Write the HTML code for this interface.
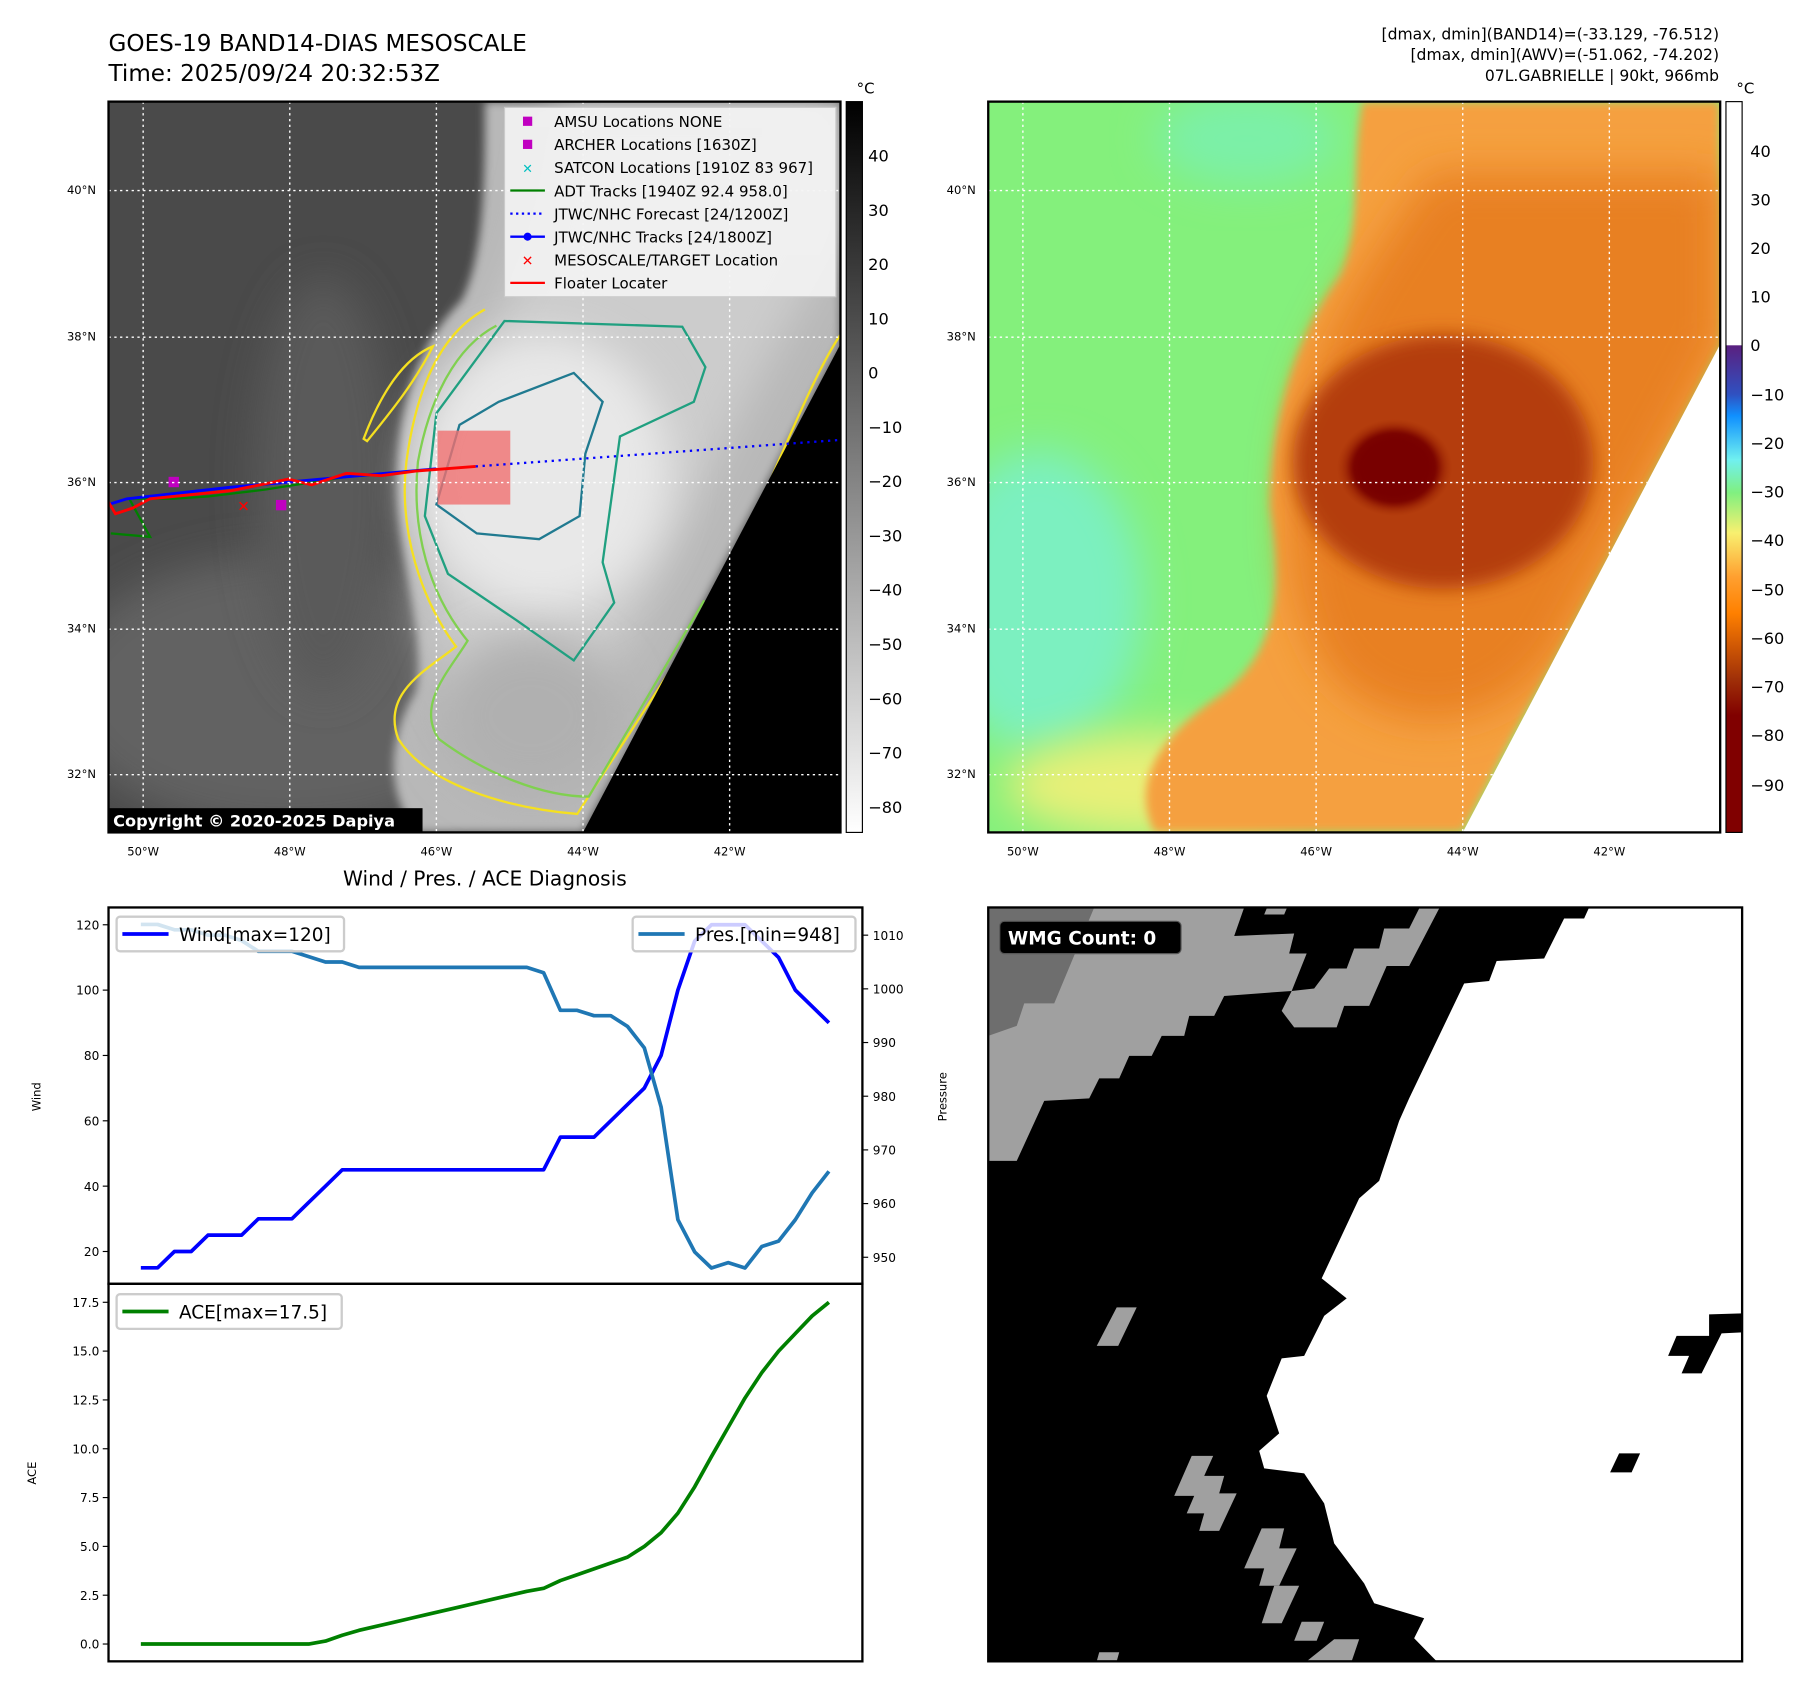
<!DOCTYPE html>
<html><head><meta charset="utf-8"><style>
html,body{margin:0;padding:0;background:#fff}
svg{display:block;font-family:"DejaVu Sans","Liberation Sans",sans-serif}
</style></head><body>
<svg id="root" xmlns="http://www.w3.org/2000/svg" width="1801" height="1690" viewBox="0 0 1560 1463.8">
<defs>
<clipPath id="c1"><rect x="94" y="88" width="634" height="633"/></clipPath>
<clipPath id="c2"><rect x="856" y="88" width="634" height="633"/></clipPath>
<clipPath id="c3"><rect x="856" y="786" width="653" height="653"/></clipPath>
<filter id="bl" x="-50%" y="-50%" width="200%" height="200%"><feGaussianBlur stdDeviation="18"/></filter>
<filter id="bl2" x="-50%" y="-50%" width="200%" height="200%"><feGaussianBlur stdDeviation="8"/></filter>
<filter id="bl3" x="-20%" y="-20%" width="140%" height="140%"><feGaussianBlur stdDeviation="4"/></filter>
<linearGradient id="gcb" x1="0" y1="0" x2="0" y2="1"><stop offset="0" stop-color="#000"/><stop offset="1" stop-color="#fff"/></linearGradient>
<linearGradient id="ccb" x1="0" y1="0" x2="0" y2="1">
<stop offset="0" stop-color="#fff"/><stop offset="0.333" stop-color="#fff"/>
<stop offset="0.334" stop-color="#5a2080"/><stop offset="0.40" stop-color="#3050c0"/><stop offset="0.43" stop-color="#1090ff"/>
<stop offset="0.49" stop-color="#70f0f0"/><stop offset="0.535" stop-color="#80f080"/><stop offset="0.59" stop-color="#f8f070"/>
<stop offset="0.65" stop-color="#ffa030"/><stop offset="0.70" stop-color="#ff8000"/><stop offset="0.79" stop-color="#a03008"/><stop offset="0.84" stop-color="#800000"/><stop offset="1" stop-color="#800000"/></linearGradient>
<radialGradient id="eye" cx="0.5" cy="0.5" r="0.5"><stop offset="0" stop-color="#7a0000"/><stop offset="0.7" stop-color="#800800"/><stop offset="1" stop-color="#a02800" stop-opacity="0"/></radialGradient>
</defs>

<text x="94" y="44" font-size="20">GOES-19 BAND14-DIAS MESOSCALE</text>
<text x="94" y="70" font-size="20">Time: 2025/09/24 20:32:53Z</text>
<g font-size="13.5" text-anchor="end">
<text x="1489" y="34">[dmax, dmin](BAND14)=(-33.129, -76.512)</text>
<text x="1489" y="52">[dmax, dmin](AWV)=(-51.062, -74.202)</text>
<text x="1489" y="70">07L.GABRIELLE | 90kt, 966mb</text>
</g>

<!-- LEFT MAP -->
<g clip-path="url(#c1)">
<rect x="94" y="88" width="634" height="633" fill="#4a4a4a"/>
<ellipse cx="250" cy="600" rx="200" ry="120" fill="#626262" filter="url(#bl)"/>
<ellipse cx="280" cy="420" rx="60" ry="180" fill="#5a5a5a" filter="url(#bl)"/>
<path d="M420,88 L728,88 L728,298 L505,721 L360,721 C330,680 340,630 360,600 C370,560 350,500 345,440 C340,360 360,300 400,260 C420,220 420,150 420,88 Z" fill="#b8b8b8" filter="url(#bl3)"/>
<path d="M480,88 L728,88 L728,200 L640,360 L560,520 C520,600 480,640 420,640 C380,600 370,540 365,480 C360,420 370,360 400,320 C430,280 470,220 480,88 Z" fill="#cccccc" filter="url(#bl)"/>
<ellipse cx="470" cy="410" rx="110" ry="120" fill="#e8e8e8" filter="url(#bl)"/>
<ellipse cx="460" cy="620" rx="80" ry="70" fill="#b0b0b0" filter="url(#bl)"/>
<g fill="none" stroke-width="2">
<path d="M420,268 C380,290 360,340 352,400 C345,460 365,520 395,560 C370,580 330,600 345,640 C370,680 440,700 500,705 L620,520 C660,440 700,330 728,290" stroke="#f5e020"/>
<path d="M430,282 C395,300 372,345 362,400 C356,460 372,515 405,555 C390,580 360,610 380,640 C420,670 470,690 510,690 L610,520" stroke="#80d050"/>
<path d="M437,278 L591,283 L611,318 L601,348 L537,378 L522,487 L532,522 L497,572 L447,537 L388,497 L368,447 L378,358 Z" stroke="#20a080"/>
<path d="M398,368 L432,348 L497,323 L522,348 L507,393 L502,447 L467,467 L413,462 L378,437 Z" stroke="#207a90"/>
<path d="M315,380 C330,340 350,310 375,300 C360,330 340,355 318,382 Z" stroke="#f5e020"/>
</g>
<polygon points="728,298 728,721 505,721" fill="#000"/>
<rect x="379" y="373" width="63" height="64" fill="#f07070" opacity="0.8"/>
<polyline points="96,462 130,465 112,432 150,432 180,430 230,424 300,413 350,409" fill="none" stroke="#008000" stroke-width="2"/>
<polyline points="94,437 110,432 200,422 300,413 378,406" fill="none" stroke="#0000ff" stroke-width="2.5"/>
<polyline points="94,435 100,445 115,440 130,432 200,425 250,415 270,420 300,410 330,412 360,408 412,404" fill="none" stroke="#ff0000" stroke-width="2.5"/>
<line x1="412" y1="404" x2="728" y2="381" stroke="#0000ff" stroke-width="2" stroke-dasharray="2,4"/>
<rect x="146" y="413" width="9" height="9" fill="#c000c0"/>
<rect x="239" y="433" width="9" height="9" fill="#c000c0"/>
<text x="211" y="443" fill="#f00" font-size="13" font-weight="bold" text-anchor="middle">✕</text>
<g stroke="#fff" stroke-dasharray="2,3" stroke-width="1.2">
<line x1="124" y1="88" x2="124" y2="721"/><line x1="251" y1="88" x2="251" y2="721"/><line x1="378" y1="88" x2="378" y2="721"/><line x1="505" y1="88" x2="505" y2="721"/><line x1="632" y1="88" x2="632" y2="721"/>
<line x1="94" y1="165" x2="728" y2="165"/><line x1="94" y1="292" x2="728" y2="292"/><line x1="94" y1="418" x2="728" y2="418"/><line x1="94" y1="545" x2="728" y2="545"/><line x1="94" y1="671" x2="728" y2="671"/>
</g>
<g font-size="13">
<rect x="437" y="93" width="287" height="164" fill="#f4f4f4" opacity="0.9" stroke="#ccc"/>
<rect x="453" y="101" width="8" height="8" fill="#c000c0"/><text x="480" y="110">AMSU Locations NONE</text>
<rect x="453" y="121" width="8" height="8" fill="#c000c0"/><text x="480" y="130">ARCHER Locations [1630Z]</text>
<text x="457" y="150" fill="#00c0c0" text-anchor="middle" font-size="11" font-weight="bold">✕</text><text x="480" y="150">SATCON Locations [1910Z 83 967]</text>
<line x1="442" y1="165" x2="472" y2="165" stroke="#008000" stroke-width="2"/><text x="480" y="170">ADT Tracks [1940Z 92.4 958.0]</text>
<line x1="442" y1="185" x2="472" y2="185" stroke="#0000ff" stroke-width="2" stroke-dasharray="2,3"/><text x="480" y="190">JTWC/NHC Forecast [24/1200Z]</text>
<line x1="442" y1="205" x2="472" y2="205" stroke="#0000ff" stroke-width="2"/><circle cx="457" cy="205" r="3.5" fill="#0000ff"/><text x="480" y="210">JTWC/NHC Tracks [24/1800Z]</text>
<text x="457" y="230" fill="#f00" text-anchor="middle" font-size="12" font-weight="bold">✕</text><text x="480" y="230">MESOSCALE/TARGET Location</text>
<line x1="442" y1="245" x2="472" y2="245" stroke="#ff0000" stroke-width="2"/><text x="480" y="250">Floater Locater</text>
</g>
<rect x="94" y="700" width="272" height="21" fill="#000"/>
<text x="98" y="716" fill="#fff" font-size="14" font-weight="bold">Copyright © 2020-2025 Dapiya</text>
</g>
<rect x="94" y="88" width="634" height="633" fill="none" stroke="#000" stroke-width="2"/>
<rect x="733" y="88" width="14" height="633" fill="url(#gcb)" stroke="#000" stroke-width="1"/>
<text x="742" y="81" font-size="13">°C</text>
<g font-size="14">
<text x="752" y="140">40</text><text x="752" y="187">30</text><text x="752" y="234">20</text><text x="752" y="281">10</text><text x="752" y="328">0</text>
<text x="752" y="375">−10</text><text x="752" y="422">−20</text><text x="752" y="469">−30</text><text x="752" y="516">−40</text><text x="752" y="563">−50</text><text x="752" y="610">−60</text><text x="752" y="657">−70</text><text x="752" y="704">−80</text>
</g>
<g font-size="10">
<text x="58" y="168">40°N</text><text x="58" y="295">38°N</text><text x="58" y="421">36°N</text><text x="58" y="548">34°N</text><text x="58" y="674">32°N</text>
<g text-anchor="middle"><text x="124" y="741">50°W</text><text x="251" y="741">48°W</text><text x="378" y="741">46°W</text><text x="505" y="741">44°W</text><text x="632" y="741">42°W</text></g>
</g>

<!-- RIGHT MAP -->
<g clip-path="url(#c2)">
<rect x="856" y="88" width="634" height="633" fill="#84f07c"/>
<ellipse cx="900" cy="520" rx="90" ry="130" fill="#7cf0c0" filter="url(#bl)"/>
<ellipse cx="1080" cy="120" rx="80" ry="40" fill="#7cf0a8" filter="url(#bl)"/>
<ellipse cx="1000" cy="680" rx="130" ry="45" fill="#e8f078" filter="url(#bl)"/>
<path d="M1180,88 L1490,88 L1490,298 L1267,721 L1000,721 C980,680 1000,640 1060,600 C1110,560 1110,500 1100,440 C1100,350 1130,280 1160,240 C1180,200 1170,140 1180,88 Z" fill="#f5a040" filter="url(#bl3)"/>
<path d="M1240,150 L1490,150 L1490,298 L1350,560 C1300,640 1200,640 1150,580 C1120,530 1115,470 1120,410 C1125,330 1160,260 1240,150 Z" fill="#e88020" filter="url(#bl)"/>
<ellipse cx="1250" cy="400" rx="130" ry="110" fill="#b43c0c" filter="url(#bl2)"/>
<ellipse cx="1208" cy="405" rx="50" ry="42" fill="url(#eye)"/>
<ellipse cx="1208" cy="405" rx="36" ry="30" fill="#780000" filter="url(#bl3)"/>
<polygon points="1490,298 1490,721 1267,721" fill="#fff"/>
<g stroke="#fff" stroke-dasharray="2,3" stroke-width="1.2">
<line x1="886" y1="88" x2="886" y2="721"/><line x1="1013" y1="88" x2="1013" y2="721"/><line x1="1140" y1="88" x2="1140" y2="721"/><line x1="1267" y1="88" x2="1267" y2="721"/><line x1="1394" y1="88" x2="1394" y2="721"/>
<line x1="856" y1="165" x2="1490" y2="165"/><line x1="856" y1="292" x2="1490" y2="292"/><line x1="856" y1="418" x2="1490" y2="418"/><line x1="856" y1="545" x2="1490" y2="545"/><line x1="856" y1="671" x2="1490" y2="671"/>
</g>
</g>
<rect x="856" y="88" width="634" height="633" fill="none" stroke="#000" stroke-width="2"/>
<rect x="1495" y="88" width="14" height="633" fill="url(#ccb)" stroke="#000" stroke-width="1"/>
<text x="1504" y="81" font-size="13">°C</text>
<g font-size="14">
<text x="1516" y="136">40</text><text x="1516" y="178">30</text><text x="1516" y="220">20</text><text x="1516" y="262">10</text><text x="1516" y="304">0</text>
<text x="1516" y="347">−10</text><text x="1516" y="389">−20</text><text x="1516" y="431">−30</text><text x="1516" y="473">−40</text><text x="1516" y="516">−50</text><text x="1516" y="558">−60</text><text x="1516" y="600">−70</text><text x="1516" y="642">−80</text><text x="1516" y="685">−90</text>
</g>
<g font-size="10">
<text x="820" y="168">40°N</text><text x="820" y="295">38°N</text><text x="820" y="421">36°N</text><text x="820" y="548">34°N</text><text x="820" y="674">32°N</text>
<g text-anchor="middle"><text x="886" y="741">50°W</text><text x="1013" y="741">48°W</text><text x="1140" y="741">46°W</text><text x="1267" y="741">44°W</text><text x="1394" y="741">42°W</text></g>
</g>

<!-- WMG PANEL -->
<g clip-path="url(#c3)">
<rect x="856" y="786" width="653" height="653" fill="#000"/>
<g transform="translate(856,786) scale(0.4330) translate(-8,-8)">
<polygon fill="#fff" points="1210,8 1516,8 1516,820 1450,822 1450,865 1385,865 1368,905 1410,905 1395,940 1435,940 1475,860 1516,858 1516,1516 905,1516 860,1470 880,1430 780,1400 760,1360 730,1320 700,1280 680,1200 640,1140 560,1130 550,1095 590,1060 565,985 595,910 640,905 680,825 725,790 675,750 750,590 790,555 830,435 850,390 960,160 1010,155 1025,115 1120,110 1160,30 1200,30"/>
<polygon fill="#000" points="1270,1100 1312,1100 1295,1138 1252,1138"/>
<polygon fill="#a0a0a0" points="8,8 520,8 500,65 620,60 610,100 645,100 615,175 480,185 460,225 410,225 400,265 355,265 335,305 290,305 270,350 230,350 210,390 120,395 65,515 8,515"/>
<polygon fill="#6e6e6e" points="8,8 220,8 140,200 80,200 65,245 8,265"/>
<polygon fill="#a0a0a0" points="595,215 615,175 660,170 690,130 725,130 740,90 790,90 800,50 850,50 870,10 910,10 850,125 805,125 770,205 720,205 705,248 620,248"/>
<polygon fill="#a0a0a0" points="565,10 605,10 600,22 560,22"/>
<polygon fill="#a0a0a0" points="265,808 305,808 268,885 225,885"/>
<polygon fill="#a0a0a0" points="415,1105 458,1105 440,1145 480,1145 470,1180 505,1180 470,1255 430,1255 440,1220 405,1220 420,1185 380,1185"/>
<polygon fill="#a0a0a0" points="555,1250 600,1250 590,1290 625,1290 590,1365 550,1365 560,1330 520,1330"/>
<polygon fill="#a0a0a0" points="580,1365 630,1365 595,1440 555,1440"/>
<polygon fill="#a0a0a0" points="635,1437 680,1437 665,1475 620,1475"/>
<polygon fill="#a0a0a0" points="700,1472 750,1472 735,1516 645,1516"/>
<polygon fill="#a0a0a0" points="230,1498 270,1498 265,1516 225,1516"/>
</g>
<rect x="866" y="798" width="157" height="28" rx="4" fill="#000" stroke="#555"/>
<text x="873" y="818" fill="#fff" font-size="16" font-weight="bold">WMG Count: 0</text>
</g>
<rect x="856" y="786" width="653" height="653" fill="none" stroke="#000" stroke-width="2"/>

<!-- CHART -->
<text x="420" y="767" font-size="17.5" text-anchor="middle">Wind / Pres. / ACE Diagnosis</text>
<g id="chart"></g>
<rect x="94" y="786" width="653" height="326" fill="none" stroke="#000" stroke-width="2"/>
<rect x="94" y="1112" width="653" height="327" fill="none" stroke="#000" stroke-width="2"/>
<text transform="translate(35,950) rotate(-90)" font-size="10" text-anchor="middle">Wind</text>
<text transform="translate(820,950) rotate(-90)" font-size="10" text-anchor="middle">Pressure</text>
<text transform="translate(31,1276) rotate(-90)" font-size="10" text-anchor="middle">ACE</text>
</svg>
<script>
const wind=[15,15,20,20,25,25,25,30,30,30,35,40,45,45,45,45,45,45,45,45,45,45,45,45,45,55,55,55,60,65,70,80,100,115,120,120,120,115,110,100,95,90];
const pres=[1012,1012,1011,1011,1010,1010,1009,1007,1007,1007,1006,1005,1005,1004,1004,1004,1004,1004,1004,1004,1004,1004,1004,1004,1003,996,996,995,995,993,989,978,957,951,948,949,948,952,953,957,962,966];
const ace=[0,0,0,0,0,0,0,0,0,0,0,0.15,0.45,0.7,0.9,1.1,1.3,1.5,1.7,1.9,2.1,2.3,2.5,2.7,2.85,3.25,3.55,3.85,4.15,4.45,5.0,5.7,6.7,8.05,9.6,11.1,12.6,13.9,15.0,15.9,16.8,17.5];
const windTicks=[20,40,60,80,100,120];
const presTicks=[950,960,970,980,990,1000,1010];
const aceTicks=[0,2.5,5,7.5,10,12.5,15,17.5];
const NS="http://www.w3.org/2000/svg";
const g=document.getElementById('chart');
const xS=i=>122+i*(718-122)/(wind.length-1);
const yW=v=>801+(120-v)*2.83;
const yP=p=>810+(1010-p)*4.65;
const yA=a=>1424-a*(296/17.5);
function mk(t,a){const e=document.createElementNS(NS,t);for(const k in a)e.setAttribute(k,a[k]);g.appendChild(e);return e;}
function line(arr,ys,color,name){const e=mk('polyline',{points:arr.map((v,i)=>xS(i)+','+ys(v)).join(' '),fill:'none',stroke:color,'stroke-width':3.2,'stroke-linejoin':'round'});

}
line(wind,yW,'#0000ff','wind-line');
line(pres,yP,'#1f77b4','pressure-line');
line(ace,yA,'#008000','ace-line');
windTicks.forEach(v=>{mk('line',{x1:89,x2:94,y1:yW(v),y2:yW(v),stroke:'#000'});const t=mk('text',{x:86,y:yW(v)+4,'font-size':10.5,'text-anchor':'end'});t.textContent=v;

});
presTicks.forEach(v=>{mk('line',{x1:747,x2:752,y1:yP(v),y2:yP(v),stroke:'#000'});const t=mk('text',{x:756,y:yP(v)+4,'font-size':10.5});t.textContent=v;

});
aceTicks.forEach(v=>{mk('line',{x1:89,x2:94,y1:yA(v),y2:yA(v),stroke:'#000'});const t=mk('text',{x:86,y:yA(v)+4,'font-size':10.5,'text-anchor':'end'});t.textContent=v.toFixed(1);

});
function legend(x,y,w,color,label,name){mk('rect',{x:x,y:y,width:w,height:30,rx:3,fill:'#fff','fill-opacity':0.8,stroke:'#ccc','stroke-width':2});
mk('line',{x1:x+5,x2:x+45,y1:y+15,y2:y+15,stroke:color,'stroke-width':3.2});
const t=mk('text',{x:x+54,y:y+21,'font-size':16});t.textContent=label;

}
legend(101,794,197,'#0000ff','Wind[max='+Math.max(...wind)+']','wind-legend');
legend(548,794,193,'#1f77b4','Pres.[min='+Math.min(...pres)+']','pressure-legend');
legend(101,1121,195,'#008000','ACE[max='+Math.max(...ace)+']','ace-legend');
</script>
</body></html>
